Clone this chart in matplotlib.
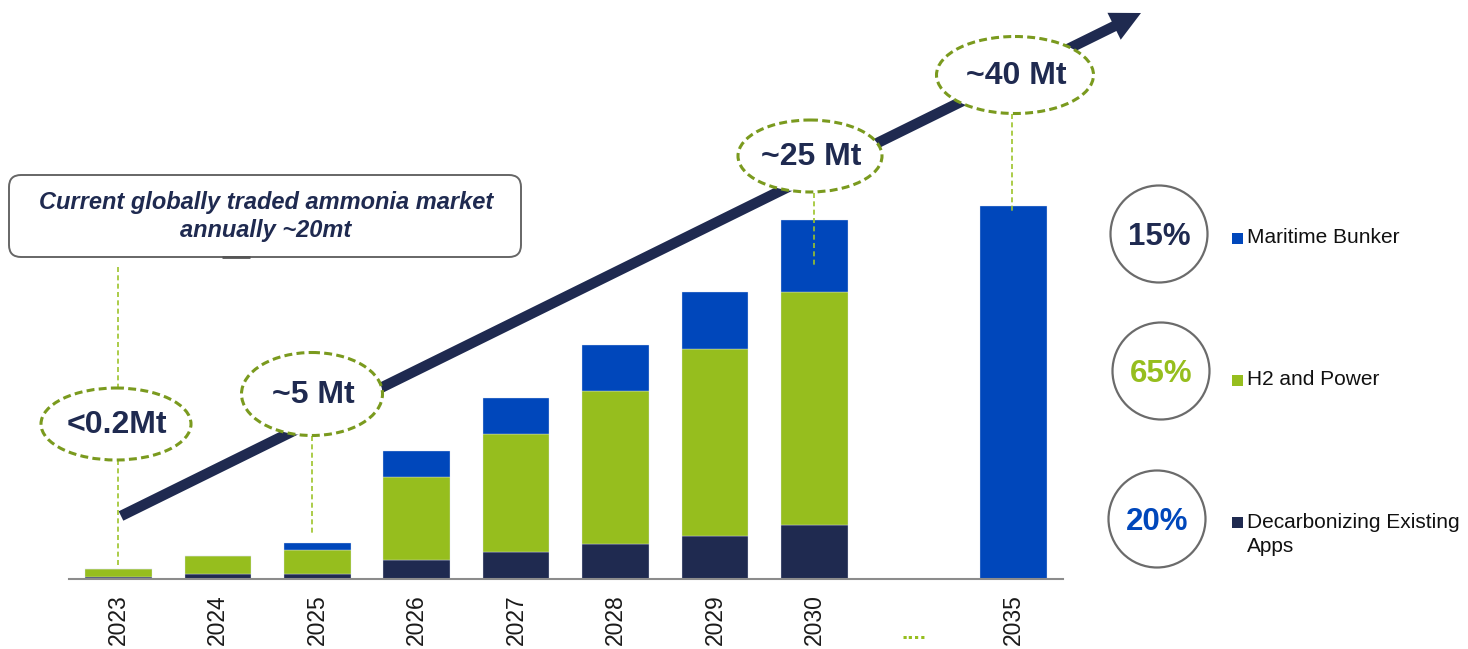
import matplotlib
matplotlib.use('Agg')
import matplotlib.pyplot as plt
from matplotlib.patches import Ellipse, FancyArrow, FancyBboxPatch, Rectangle

plt.rcParams['font.family'] = ['Liberation Sans', 'DejaVu Sans']

# bar data (scaled so 2035 = 40)
years = ['2023', '2024', '2025', '2026', '2027', '2028', '2029', '2030', '2035']
positions = [0, 1, 2, 3, 4, 5, 6, 7, 9]
decarbonizing = [0.21, 0.50, 0.54, 2.04, 2.87, 3.76, 4.59, 5.74, 0]
h2_power = [0.79, 1.97, 2.51, 8.88, 12.64, 16.37, 20.08, 25.06, 0]
maritime = [0, 0, 0.78, 2.79, 3.90, 5.00, 6.15, 7.73, 40]

callouts = ['<0.2Mt', '~5 Mt', '~25 Mt', '~40 Mt']
shares = ['15%', '65%', '20%']
legend_labels = ['Maritime Bunker', 'H2 and Power', 'Decarbonizing Existing\nApps']

navy = '#1f2a50'
green = '#96be1e'
blue = '#0047bb'
olive = '#7a9a1e'
light_green = '#9dc32a'

W, H = 1468, 649
fig = plt.figure(figsize=(W / 100, H / 100), dpi=100)

# main bar axes
ax = fig.add_axes([68.7 / W, 1 - 578.7 / H, (1063 - 68.7) / W, 578.7 / H])
bottom2 = [a + b for a, b in zip(decarbonizing, h2_power)]
ax.bar(positions, decarbonizing, width=0.67, color=navy, edgecolor='#dfe6f2', linewidth=0.25)
ax.bar(positions, h2_power, width=0.67, bottom=decarbonizing, color=green, edgecolor='#dfe6f2', linewidth=0.25)
ax.bar(positions, maritime, width=0.67, bottom=bottom2, color=blue, edgecolor='#dfe6f2', linewidth=0.25)
ax.set_xlim(-0.5, 9.5)
ax.set_ylim(0, 62.15)
ax.set_xticks(positions)
ax.set_xticklabels(years, rotation=90, fontsize=16.5, color='#1a1a1a')
ax.tick_params(axis='x', length=0, pad=11)
ax.set_yticks([])
for s in ['top', 'right', 'left']:
    ax.spines[s].set_visible(False)
ax.spines['bottom'].set_color('#8c8c8c')
ax.spines['bottom'].set_linewidth(1.5)
ax.text(8, -0.095, '....', transform=ax.get_xaxis_transform(), ha='center', va='center',
        fontsize=16, fontweight='bold', color=green)

# overlay in pixel coordinates for the annotations
ov = fig.add_axes([0, 0, 1, 1], zorder=5)
ov.set_xlim(0, W)
ov.set_ylim(H, 0)
ov.axis('off')

# growth arrow
ov.add_patch(FancyArrow(121, 516, 1141 - 121, 13 - 516, width=10.5, head_width=30,
                        head_length=30, length_includes_head=True, color=navy, lw=0))

# connector lines
conn = dict(color=light_green, lw=1.2, linestyle=(0, (3, 2)), zorder=2)
ov.plot([118, 118], [267, 388], **conn)
ov.plot([118, 118], [460, 567], **conn)
ov.plot([312, 312], [436, 536], **conn)
ov.plot([814, 814], [193, 267], **conn)
ov.plot([1012, 1012], [114, 213], **conn)

# dashed ellipses with the volumes
ell_centers = [(116, 424), (312, 394), (810, 156), (1015, 75)]
ell_sizes = [(150, 72), (141, 83), (144, 72), (157, 77)]
for (cx, cy), (ew, eh), lab in zip(ell_centers, ell_sizes, callouts):
    ov.add_patch(Ellipse((cx, cy), ew, eh, facecolor='white', edgecolor=olive,
                         lw=2.2, linestyle=(0, (2.6, 1.4)), zorder=3))
    ov.text(cx + 1, cy + 1, lab, ha='center', va='center', fontsize=23,
            fontweight='bold', color=navy, zorder=4)

# callout box
ov.add_patch(FancyBboxPatch((9, 175), 512, 82, boxstyle='round,pad=0,rounding_size=12',
                            facecolor='white', edgecolor='#666666', lw=1.4, zorder=3))
ov.plot([222, 250], [257, 257], color='#555555', lw=2, zorder=4, solid_capstyle='butt')
ov.text(266, 202, 'Current globally traded ammonia market', ha='center', va='center',
        fontsize=17, fontweight='bold', fontstyle='italic', color=navy, zorder=4)
ov.text(266, 230, 'annually ~20mt', ha='center', va='center',
        fontsize=17, fontweight='bold', fontstyle='italic', color=navy, zorder=4)

# share circles and legend
circle_centers = [(1159, 234), (1161, 371), (1157, 519)]
share_colors = [navy, green, blue]
legend_colors = [blue, green, navy]
legend_y = [238, 380, 522.5]
for (cx, cy), txt, tc in zip(circle_centers, shares, share_colors):
    ov.add_patch(Ellipse((cx, cy), 97, 97, facecolor='white', edgecolor='#6b6b6b', lw=1.6))
    ov.text(cx, cy + 3, txt, ha='center', va='center', fontsize=22.5, fontweight='bold', color=tc)
for ly, lab, lc in zip(legend_y, legend_labels, legend_colors):
    ov.add_patch(Rectangle((1232, ly - 5.5), 11, 11, facecolor=lc, edgecolor='none'))
    ov.text(1247, ly - 10, lab, ha='left', va='top', fontsize=15, color='#111111',
            linespacing=1.4)

fig.savefig('out.png', dpi=100)
